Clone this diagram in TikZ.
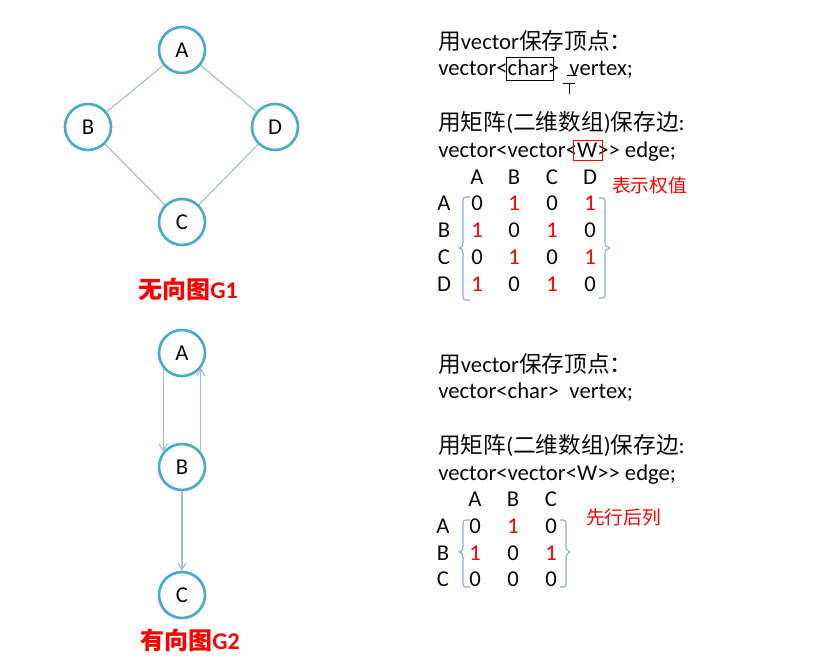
\documentclass[tikz,border=0pt]{standalone}
\usepackage{fontspec}
\setmainfont{Carlito}
\newfontfamily\cjk{Noto Sans CJK SC}
\usetikzlibrary{arrows.meta}
\definecolor{vtxteal}{RGB}{75,172,198}
\definecolor{edgeblue}{RGB}{160,185,220}
\definecolor{brkblue}{RGB}{140,170,210}
\definecolor{txtred}{RGB}{255,0,0}
\definecolor{txtdark}{RGB}{10,10,10}
\colorlet{mat0}{txtdark}
\colorlet{mat1}{txtred}
\newcommand{\zh}[1]{{\cjk #1}}

\begin{document}
\begin{tikzpicture}[x=.75pt,y=-.75pt,
  vertex/.style={circle,draw=vtxteal,line width=2pt,minimum size=34.5pt,inner sep=0pt,
    font=\fontsize{17}{20}\selectfont,text=txtdark},
  edge/.style={draw=edgeblue,line width=.8pt},
  arc/.style={draw=edgeblue,line width=.8pt,-{Straight Barb[length=5pt,width=6pt]}},
  code/.style={anchor=base west,inner sep=0pt,font=\fontsize{17}{20}\selectfont,text=txtdark},
  cell/.style={anchor=base,inner sep=0pt,font=\fontsize{17}{20}\selectfont,text=txtdark},
  remark/.style={anchor=west,inner sep=0pt,font=\fontsize{14}{16}\selectfont\cjk,text=txtred},
  caption/.style={inner sep=0pt,font=\fontsize{18}{20}\selectfont,text=txtred},
  brk/.style={draw=brkblue,line width=.8pt,rounded corners=2pt}]

\useasboundingbox (0,0) rectangle (834,664);

% undirected graph G1
\node[vertex] (ga) at (182,50) {A};
\node[vertex] (gb) at (88,127) {B};
\node[vertex] (gd) at (275,127) {D};
\node[vertex] (gc) at (182,222) {C};
\draw[edge] (ga)--(gb);
\draw[edge] (ga)--(gd);
\draw[edge] (gb)--(gc);
\draw[edge] (gd)--(gc);
\node[caption] (cap1) at (188,289) {\zh{\bfseries 无向图}\textbf{G1}};

% directed graph G2
\node[vertex] (ha) at (182,353) {A};
\node[vertex] (hb) at (182,467) {B};
\node[vertex] (hc) at (182,595) {C};
\draw[arc] (ha.-141)--(hb.141);
\draw[arc] (hb.39)--(ha.-39);
\draw[arc] (hb)--(hc);
\node[caption] (cap2) at (190,640) {\zh{\bfseries 有向图}\textbf{G2}};

% storage of G1
\node[code] (v1) at (438,49) {\zh{用}vector\zh{保存顶点：}};
\node[code] (v1d) at (438,75) {vector<char>\ \ vertex;};
\draw[line width=.7pt,draw=txtdark] (506,57) rectangle (553,80);
\draw[line width=.7pt,draw=txtdark] (567,75)--(577,75) (563,83)--(575,83) (569,83)--(569,94);
\node[code] (e1) at (438,130) {\zh{用矩阵}(\zh{二维数组})\zh{保存边}:};
\node[code] (e1d) at (438,157) {vector<vector<W>{}> edge;};
\draw[line width=.7pt,draw=txtred] (573,140) rectangle (602,160);
\foreach \cc/\lab in {477/A,514/B,552/C,590/D}
  \node[cell] (h1\lab) at (\cc,184) {\lab};
\foreach \rr/\lab/\va/\vb/\vc/\vd in {210/A/0/1/0/1,237/B/1/0/1/0,264/C/0/1/0/1,291/D/1/0/1/0}{
  \node[cell] (r1\lab) at (444,\rr) {\lab};
  \node[cell,text=mat\va] (m1\lab a) at (477,\rr) {\va};
  \node[cell,text=mat\vb] (m1\lab b) at (514,\rr) {\vb};
  \node[cell,text=mat\vc] (m1\lab c) at (552,\rr) {\vc};
  \node[cell,text=mat\vd] (m1\lab d) at (590,\rr) {\vd};
}
\draw[brk] (470,197)--(463,197)--(463,246)--(459,248)--(463,250)--(463,300)--(470,300);
\draw[brk] (599,198)--(605,198)--(605,246)--(611,248)--(605,250)--(605,298)--(599,298);
\node[remark] (w1) at (612,185) {表示权值};

% storage of G2
\node[code] (v2) at (438,372) {\zh{用}vector\zh{保存顶点：}};
\node[code] (v2d) at (438,398) {vector<char>\ \ vertex;};
\node[code] (e2) at (438,453) {\zh{用矩阵}(\zh{二维数组})\zh{保存边}:};
\node[code] (e2d) at (438,480) {vector<vector<W>{}> edge;};
\foreach \cc/\lab in {475/A,513/B,551/C}
  \node[cell] (h2\lab) at (\cc,506) {\lab};
\foreach \rr/\lab/\va/\vb/\vc in {533/A/0/1/0,560/B/1/0/1,586/C/0/0/0}{
  \node[cell] (r2\lab) at (443,\rr) {\lab};
  \node[cell,text=mat\va] (m2\lab a) at (475,\rr) {\va};
  \node[cell,text=mat\vb] (m2\lab b) at (513,\rr) {\vb};
  \node[cell,text=mat\vc] (m2\lab c) at (551,\rr) {\vc};
}
\draw[brk] (470,520)--(463,520)--(463,550)--(459,552)--(463,554)--(463,587)--(470,587);
\draw[brk] (560,520)--(566,520)--(566,550)--(571,552)--(566,554)--(566,587)--(560,587);
\node[remark] (w2) at (586,517) {先行后列};

\end{tikzpicture}
\end{document}
